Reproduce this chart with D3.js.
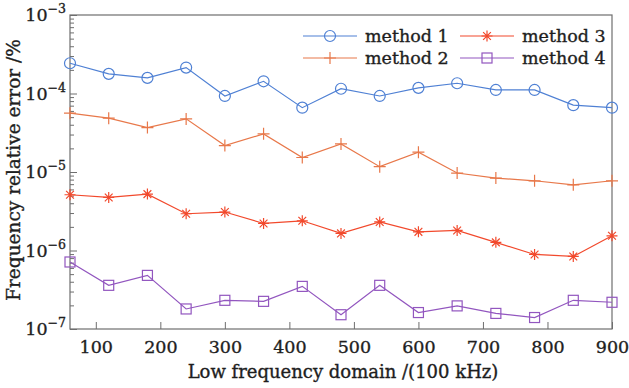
<!DOCTYPE html>
<html><head><meta charset="utf-8">
<script src="https://cdn.jsdelivr.net/npm/d3@7"></script>
<style>body{margin:0;background:#fff}svg{display:block}text{font-family:"DejaVu Serif",serif;fill:#1e1e1e;stroke:#1e1e1e;stroke-width:0.35px}</style>
</head><body><div id="chart"></div>
<script>
const freqs = [60,120,180,240,300,360,420,480,540,600,660,720,780,840,900];
const method1 = [2.43e-4,1.78e-4,1.58e-4,2.14e-4,9.3e-5,1.43e-4,6.6e-5,1.15e-4,9.3e-5,1.18e-4,1.35e-4,1.11e-4,1.11e-4,7.1e-5,6.6e-5];
const method2 = [5.61e-5,4.85e-5,3.68e-5,4.75e-5,2.17e-5,3.06e-5,1.53e-5,2.28e-5,1.17e-5,1.79e-5,9.7e-6,8.36e-6,7.73e-6,6.87e-6,7.73e-6];
const method3 = [5.13e-6,4.74e-6,5.23e-6,2.94e-6,3.09e-6,2.21e-6,2.39e-6,1.65e-6,2.31e-6,1.73e-6,1.80e-6,1.27e-6,8.9e-7,8.4e-7,1.54e-6];
const method4 = [7.14e-7,3.60e-7,4.82e-7,1.80e-7,2.32e-7,2.25e-7,3.49e-7,1.52e-7,3.60e-7,1.62e-7,1.97e-7,1.58e-7,1.40e-7,2.32e-7,2.19e-7];
const xTicks = [100,200,300,400,500,600,700,800,900];
const yTickExps = [-3,-4,-5,-6,-7];
const seriesNames = ["method 1","method 2","method 3","method 4"];

const W=629,H=388;
const m={l:70,r:17,t:15,b:59};
const svg=d3.select("#chart").append("svg").attr("width",W).attr("height",H);
const x=d3.scaleLinear().domain([60,900]).range([m.l,W-m.r]);
const y=d3.scaleLog().domain([1e-7,1e-3]).range([H-m.b,m.t]);

const series=[
 {name:seriesNames[0],vals:method1,color:"#4f80d4",marker:"circle"},
 {name:seriesNames[1],vals:method2,color:"#e8784a",marker:"plus"},
 {name:seriesNames[2],vals:method3,color:"#f2492c",marker:"star"},
 {name:seriesNames[3],vals:method4,color:"#9256bf",marker:"square"}
];

const axisCol="#6e6e6e";
svg.append("rect").attr("x",m.l).attr("y",m.t).attr("width",W-m.r-m.l).attr("height",H-m.b-m.t)
  .attr("fill","none").attr("stroke",axisCol).attr("stroke-width",1.2);

const xAxis=d3.axisBottom(x).tickValues(xTicks).tickSize(-7).tickPadding(12).tickFormat(d3.format("d"));
const gx=svg.append("g").attr("transform",`translate(0,${H-m.b})`).call(xAxis);
gx.select(".domain").remove();
gx.selectAll(".tick line").attr("stroke",axisCol);
gx.selectAll(".tick text").attr("font-size",17.5).attr("font-family","DejaVu Serif, serif").attr("fill","#1e1e1e");

const minor=[];
for(let e=-7;e<-3;e++){for(let k=2;k<=9;k++)minor.push(k*Math.pow(10,e));}
const gyMinor=svg.append("g").attr("transform",`translate(${m.l},0)`)
  .call(d3.axisLeft(y).tickValues(minor).tickSize(-4).tickFormat(""));
gyMinor.select(".domain").remove();
gyMinor.selectAll(".tick line").attr("stroke",axisCol);
const majors=yTickExps.map(e=>Math.pow(10,e));
const gy=svg.append("g").attr("transform",`translate(${m.l},0)`)
  .call(d3.axisLeft(y).tickValues(majors).tickSize(-7).tickFormat(""));
gy.select(".domain").remove();
gy.selectAll(".tick line").attr("stroke",axisCol);
yTickExps.forEach(e=>{
  const t=svg.append("text").attr("x",m.l-4).attr("y",y(Math.pow(10,e))+6)
    .attr("text-anchor","end").attr("font-size",17.5);
  t.append("tspan").text("10");
  t.append("tspan").attr("dy",-8).attr("font-size",12.5).text("\u2212"+(-e));
});

svg.append("text").attr("x",(m.l+W-m.r)/2+2).attr("y",378).attr("text-anchor","middle")
  .attr("font-size",18).text("Low frequency domain /(100 kHz)");
svg.append("text").attr("transform",`translate(20,${(m.t+H-m.b)/2-2}) rotate(-90)`).attr("text-anchor","middle")
  .attr("font-size",18.5).text("Frequency relative error /%");

function drawMarker(g,type,cx,cy,color){
  if(type==="circle") g.append("circle").attr("cx",cx).attr("cy",cy).attr("r",5.5).attr("fill","none").attr("stroke",color).attr("stroke-width",1.2);
  else if(type==="square") g.append("rect").attr("x",cx-5).attr("y",cy-5).attr("width",10).attr("height",10).attr("fill","none").attr("stroke",color).attr("stroke-width",1.2);
  else if(type==="plus") g.append("path").attr("d",`M${cx-6},${cy}H${cx+6}M${cx},${cy-6}V${cy+6}`).attr("stroke",color).attr("stroke-width",1.2);
  else if(type==="star"){
    const r=5.5,d=r*0.707;
    g.append("path").attr("d",`M${cx-r},${cy}H${cx+r}M${cx},${cy-r}V${cy+r}M${cx-d},${cy-d}L${cx+d},${cy+d}M${cx-d},${cy+d}L${cx+d},${cy-d}`).attr("stroke",color).attr("stroke-width",1.2);
  }
}

const line=d3.line().x((d,i)=>x(freqs[i])).y(d=>y(d));
series.forEach(s=>{
  const g=svg.append("g");
  g.append("path").datum(s.vals).attr("d",line).attr("fill","none").attr("stroke",s.color).attr("stroke-width",1.2);
  s.vals.forEach((v,i)=>drawMarker(g,s.marker,x(freqs[i]),y(v),s.color));
});

const legPos=[{x:303,y:36},{x:303,y:58},{x:460,y:36},{x:460,y:58}];
series.forEach((s,i)=>{
  const p=legPos[i];const g=svg.append("g");
  g.append("line").attr("x1",p.x).attr("x2",p.x+54).attr("y1",p.y).attr("y2",p.y).attr("stroke",s.color).attr("stroke-width",1.2);
  drawMarker(g,s.marker,p.x+27,p.y,s.color);
  g.append("text").attr("x",p.x+62).attr("y",p.y+6).attr("font-size",17.5).text(s.name);
});
</script></body></html>
